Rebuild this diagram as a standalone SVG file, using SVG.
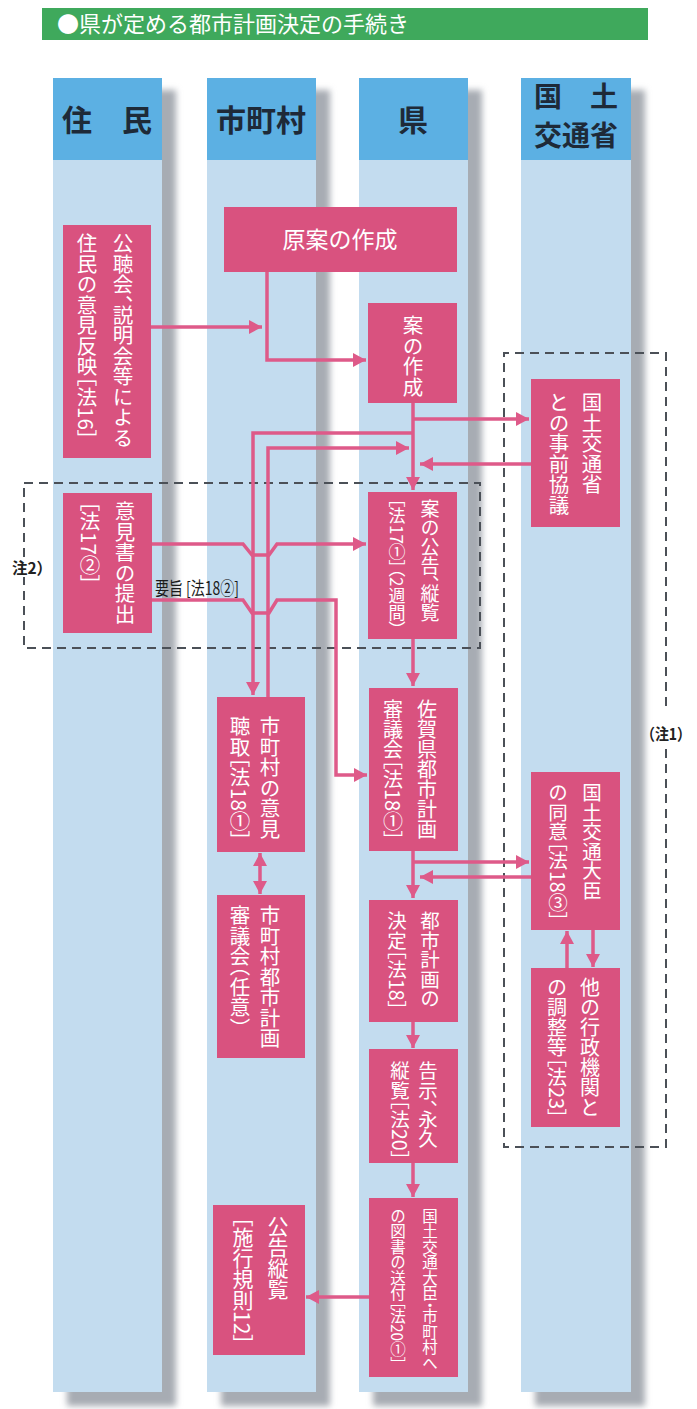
<svg xmlns="http://www.w3.org/2000/svg" width="697" height="1409" viewBox="0 0 697 1409">
<defs>
<style>
.lane{fill:#c3dcef}
.hdr{fill:#5cb0e3}
.shadow{fill:#a7acb3;filter:url(#blur)}
.box{fill:#d9527f}
.ht{font-family:"Noto Sans CJK JP",sans-serif;font-weight:700;fill:#1e2a38;font-size:30px;text-anchor:middle}
.v{writing-mode:vertical-rl;font-family:"Noto Sans CJK JP",sans-serif;fill:#fff;font-size:20.5px;font-feature-settings:"vhal" 1}
.tcy{text-combine-upright:all}
.hz{font-family:"Noto Sans CJK JP",sans-serif;fill:#fff;font-size:23px;text-anchor:middle}
.con{fill:none;stroke:#de5a89;stroke-width:3.5}
.dash{fill:none;stroke:#4b5057;stroke-width:2;stroke-dasharray:9 6}
.note{font-family:"Noto Sans CJK JP",sans-serif;font-weight:700;fill:#222;font-size:16px}
</style>
<filter id="blur" x="-20%" y="-5%" width="140%" height="110%"><feGaussianBlur stdDeviation="3"/></filter>
<marker id="ah" markerUnits="userSpaceOnUse" markerWidth="14" markerHeight="14" refX="13" refY="7" orient="auto-start-reverse"><path d="M0,0 L13,7 L0,14 z" fill="#de5a89"/></marker>
</defs>
<rect x="0" y="0" width="697" height="1409" fill="#ffffff"/>
<g id="title">
<rect x="42" y="8" width="606" height="32" fill="#3fa95c"/>
<text x="57" y="32" font-family="Noto Sans CJK JP, sans-serif" font-size="22" fill="#ffffff">●県が定める都市計画決定の手続き</text>
</g>
<g id="lanes">
<rect class="shadow" x="67" y="90" width="109" height="1316"/>
<rect class="shadow" x="221" y="90" width="109" height="1316"/>
<rect class="shadow" x="373" y="90" width="109" height="1316"/>
<rect class="shadow" x="535" y="90" width="110" height="1316"/>
<rect class="lane" x="53" y="78" width="109" height="1314"/>
<rect class="lane" x="207" y="78" width="109" height="1314"/>
<rect class="lane" x="359" y="78" width="109" height="1314"/>
<rect class="lane" x="521" y="78" width="110" height="1314"/>
<rect class="hdr" x="53" y="78" width="109" height="82"/>
<rect class="hdr" x="207" y="78" width="109" height="82"/>
<rect class="hdr" x="359" y="78" width="109" height="82"/>
<rect class="hdr" x="521" y="78" width="110" height="82"/>
<text class="ht" x="107" y="131">住　民</text>
<text class="ht" x="261" y="131">市町村</text>
<text class="ht" x="413" y="131">県</text>
<text class="ht" x="576" y="107" style="font-size:28px">国　土</text>
<text class="ht" x="576" y="146" style="font-size:28px">交通省</text>
</g>
<g id="notes">
<path class="dash" d="M24,483 H480 V648 H24 V577 M24,557 V483"/>
<text class="note" x="12" y="574" font-size="18" textLength="40" lengthAdjust="spacingAndGlyphs">注2）</text>
<path class="dash" d="M666,749 V1147 H504 V353 H666 V712"/>
<text class="note" x="641" y="740" textLength="50" lengthAdjust="spacingAndGlyphs">（注1）</text>
<text x="155" y="595" font-family="Noto Sans CJK JP, sans-serif" font-size="18" fill="#1a1a1a" textLength="84" lengthAdjust="spacingAndGlyphs">要旨 [法18②]</text>
</g>
<g id="connectors">
<path class="con" d="M151,327 H262" marker-end="url(#ah)"/>
<path class="con" d="M267,272 V360 H366" marker-end="url(#ah)"/>
<path class="con" d="M413,403 V490" marker-end="url(#ah)"/>
<path class="con" d="M413,419 H529" marker-end="url(#ah)"/>
<path class="con" d="M531,464 H420" marker-end="url(#ah)"/>
<path class="con" d="M413,433 H253 V695" marker-end="url(#ah)"/>
<path class="con" d="M268,697 V448 H409" marker-end="url(#ah)"/>
<path class="con" d="M152,544 H243 L252,555 H269 L277,544 H366" marker-end="url(#ah)"/>
<path class="con" d="M152,600 H243 L252,613 H269 L277,600 H336 V775 H367" marker-end="url(#ah)"/>
<path class="con" d="M413,639 V686" marker-end="url(#ah)"/>
<path class="con" d="M413,851 V898" marker-end="url(#ah)"/>
<path class="con" d="M413,862 H529" marker-end="url(#ah)"/>
<path class="con" d="M531,877 H420" marker-end="url(#ah)"/>
<path class="con" d="M260,853 V894" marker-start="url(#ah)" marker-end="url(#ah)"/>
<path class="con" d="M567,968 V931" marker-end="url(#ah)"/>
<path class="con" d="M593,930 V967" marker-end="url(#ah)"/>
<path class="con" d="M413,1022 V1048" marker-end="url(#ah)"/>
<path class="con" d="M413,1163 V1197" marker-end="url(#ah)"/>
<path class="con" d="M369,1297 H306" marker-end="url(#ah)"/>
</g>
<g id="n-koucho">
<rect class="box" x="63" y="225" width="88" height="233"/>
<text class="v" x="123" y="233">公聴会、説明会等による</text>
<text class="v" x="87" y="233">住民の意見反映［法<tspan class="tcy">16</tspan>］</text>
</g>
<g id="n-genan">
<rect class="box" x="224" y="207" width="233" height="65"/>
<text class="hz" x="340" y="248">原案の作成</text>
</g>
<g id="n-an">
<rect class="box" x="368" y="303" width="89" height="100"/>
<text class="v" x="413" y="315">案の作成</text>
</g>
<g id="n-jizen">
<rect class="box" x="531" y="379" width="89" height="148"/>
<text class="v" x="592" y="392">国土交通省</text>
<text class="v" x="559" y="392">との事前協議</text>
</g>
<g id="n-ikensho">
<rect class="box" x="63" y="493" width="89" height="140"/>
<text class="v" x="125" y="501">意見書の提出</text>
<text class="v" x="90" y="501">［法<tspan class="tcy">17</tspan>②］</text>
</g>
<g id="n-koukoku">
<rect class="box" x="368" y="492" width="89" height="147"/>
<text class="v" x="430" y="499" style="font-size:19px">案の公告、縦覧</text>
<text class="v" x="397" y="499" style="font-size:17px">［法<tspan class="tcy">17</tspan>①］（<tspan class="tcy">2</tspan>週間）</text>
</g>
<g id="n-shichoson-iken">
<rect class="box" x="217" y="697" width="88" height="155"/>
<text class="v" x="270" y="716">市町村の意見</text>
<text class="v" x="240" y="716">聴取［法<tspan class="tcy">18</tspan>①］</text>
</g>
<g id="n-saga">
<rect class="box" x="369" y="688" width="89" height="163"/>
<text class="v" x="427" y="699" style="font-size:20px">佐賀県都市計画</text>
<text class="v" x="393" y="699" style="font-size:20px">審議会［法<tspan class="tcy">18</tspan>①］</text>
</g>
<g id="n-shichoson-shingikai">
<rect class="box" x="217" y="895" width="88" height="163"/>
<text class="v" x="270" y="905">市町村都市計画</text>
<text class="v" x="240" y="905">審議会（任意）</text>
</g>
<g id="n-doui">
<rect class="box" x="531" y="772" width="89" height="158"/>
<text class="v" x="592" y="783" style="font-size:19.5px">国土交通大臣</text>
<text class="v" x="558" y="783" style="font-size:19.5px">の同意［法<tspan class="tcy">18</tspan>③］</text>
</g>
<g id="n-chousei">
<rect class="box" x="531" y="968" width="89" height="159"/>
<text class="v" x="590" y="977" style="font-size:20px">他の行政機関と</text>
<text class="v" x="557" y="977" style="font-size:20px">の調整等［法<tspan class="tcy">23</tspan>］</text>
</g>
<g id="n-kettei">
<rect class="box" x="369" y="900" width="89" height="122"/>
<text class="v" x="430" y="911" style="font-size:19.5px">都市計画の</text>
<text class="v" x="397" y="911" style="font-size:19.5px">決定［法<tspan class="tcy">18</tspan>］</text>
</g>
<g id="n-kokuji">
<rect class="box" x="369" y="1049" width="89" height="114"/>
<text class="v" x="428" y="1061" style="font-size:19.5px">告示、永久</text>
<text class="v" x="400" y="1061" style="font-size:19.5px">縦覧［法<tspan class="tcy">20</tspan>］</text>
</g>
<g id="n-soufu">
<rect class="box" x="369" y="1198" width="89" height="179"/>
<text class="v" x="430" y="1208" style="font-size:15.5px">国土交通大臣・市町村へ</text>
<text class="v" x="398" y="1208" style="font-size:15.5px">の図書の送付［法<tspan class="tcy">20</tspan>①］</text>
</g>
<g id="n-juran">
<rect class="box" x="213" y="1205" width="92" height="150"/>
<text class="v" x="278" y="1216" style="font-size:21px">公告縦覧</text>
<text class="v" x="243" y="1216" style="font-size:21px">［施行規則<tspan class="tcy">12</tspan>］</text>
</g>
</svg>
